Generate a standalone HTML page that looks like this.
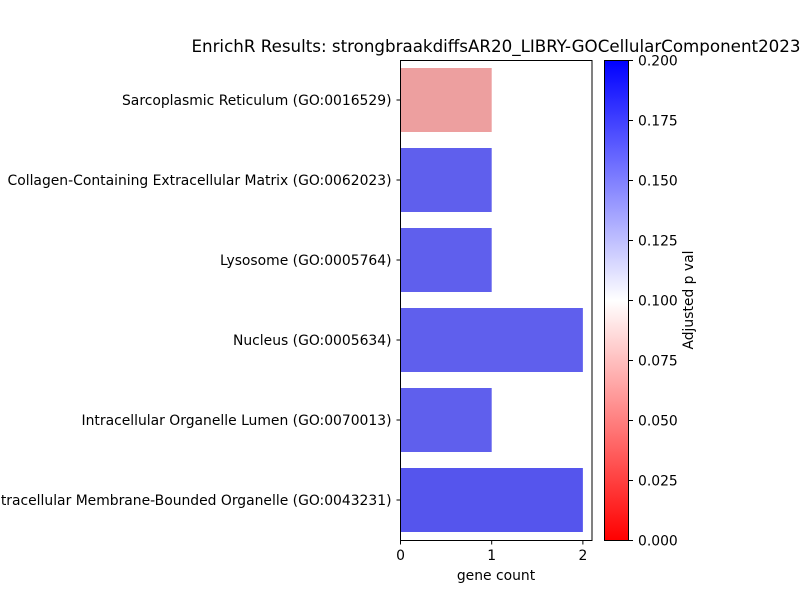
<!DOCTYPE html>
<html><head><meta charset="utf-8"><style>
body{margin:0;background:#fff;}
svg text{font-family:"DejaVu Sans","Liberation Sans",sans-serif;fill:#000;}
</style></head><body>
<svg id="chart" width="800" height="600" xmlns="http://www.w3.org/2000/svg">
<defs><linearGradient id="bwr" x1="0" y1="1" x2="0" y2="0">
<stop offset="0" stop-color="#ff0000"/><stop offset="0.5" stop-color="#ffffff"/><stop offset="1" stop-color="#0000ff"/></linearGradient></defs>
<g id="bars"></g>
<rect x="400.5" y="60.5" width="191.5" height="480" fill="none" stroke="#000" stroke-width="1"/>
<g id="yaxis"></g>
<g id="xaxis"></g>
<text x="496" y="580" font-size="13.9" text-anchor="middle">gene count</text>
<text x="496" y="52" font-size="16.7" text-anchor="middle">EnrichR Results: strongbraakdiffsAR20_LIBRY-GOCellularComponent2023</text>
<rect x="604.5" y="60.5" width="24" height="480" fill="url(#bwr)" stroke="#000" stroke-width="1"/>
<g id="cbaxis"></g>
<text transform="translate(693,300) rotate(-90)" font-size="13.9" text-anchor="middle">Adjusted p val</text>
</svg>
<script>
const categories=["Sarcoplasmic Reticulum (GO:0016529)","Collagen-Containing Extracellular Matrix (GO:0062023)","Lysosome (GO:0005764)","Nucleus (GO:0005634)","Intracellular Organelle Lumen (GO:0070013)","Intracellular Membrane-Bounded Organelle (GO:0043231)"];
const geneCounts=[1,1,1,2,1,2];
const pvals=[0.067,0.16,0.16,0.16,0.16,0.164];
const xTicks=[0,1,2];
const cbTicks=["0.000","0.025","0.050","0.075","0.100","0.125","0.150","0.175","0.200"];
const NS="http://www.w3.org/2000/svg";
const X0=400.5,PW=191.5,XMAX=2.1,Y0=60,PH=480,CBMAX=0.2;
const xs=v=>X0+v/XMAX*PW;
const band=PH/categories.length;
function mk(t,a,p){const e=document.createElementNS(NS,t);for(const k in a)e.setAttribute(k,a[k]);p.appendChild(e);return e;}
function bwr(p){const t=Math.max(0,Math.min(1,p/CBMAX));let r,g,b;
 if(t<0.5){r=1;g=b=2*t;}else{r=g=2*(1-t);b=1;}
 const f=0.93;return `rgb(${Math.round(r*255*f)},${Math.round(g*255*f)},${Math.round(b*255*f)})`;}
const bars=document.getElementById('bars'),ya=document.getElementById('yaxis'),xa=document.getElementById('xaxis'),cb=document.getElementById('cbaxis');
categories.forEach((c,i)=>{
 const cy=Y0+band*(i+0.5);
 const r=mk('rect',{x:X0,y:cy-band*0.4,width:xs(geneCounts[i])-X0,height:band*0.8,fill:bwr(pvals[i])},bars);
 
 
 mk('line',{x1:X0-4,x2:X0,y1:cy,y2:cy,stroke:'#000'},ya);
 const t=mk('text',{x:X0-9,y:cy+5,'font-size':13.9,'text-anchor':'end'},ya);t.textContent=c;
 
 
});
xTicks.forEach(v=>{const x=xs(v);
 mk('line',{x1:x,x2:x,y1:540,y2:544.5,stroke:'#000'},xa);
 const t=mk('text',{x:x,y:560,'font-size':13.9,'text-anchor':'middle'},xa);t.textContent=v;
 
 
});
cbTicks.forEach(s=>{const y=540.5-parseFloat(s)/CBMAX*480;
 mk('line',{x1:628.5,x2:633,y1:y,y2:y,stroke:'#000'},cb);
 const t=mk('text',{x:638,y:y+5,'font-size':13.9},cb);t.textContent=s;
 
 
});
</script>
</body></html>
